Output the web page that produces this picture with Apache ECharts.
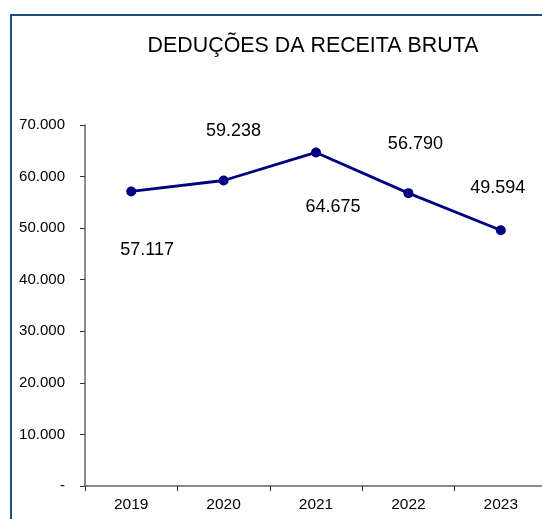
<html>
<head>
    <meta charset="utf-8">
    <script src="https://cdn.jsdelivr.net/npm/echarts@6/dist/echarts.min.js"></script>
    <style>
        body { margin: 0; background: #fff; }
        #frame { position: absolute; left: 10px; top: 14px; width: 540px; height: 510px;
                 border-left: 2px solid #1f4e79; border-top: 2px solid #1f4e79; }
    </style>
</head>
<body>
    <div id="frame"></div>
    <div id="main" style="position:absolute; left:0; top:0; width:542px; height:519px"></div>
<script type="text/javascript">
    var categories = ['2019', '2020', '2021', '2022', '2023'];
    var values = [57117, 59238, 64675, 56790, 49594];
    var yTicks = [0, 10000, 20000, 30000, 40000, 50000, 60000, 70000];

    // where each value label sits relative to its point
    var labelOffsets = [[16, 59], [10, -49], [17, 55], [7, -49], [-3, -42]];

    function fmt(v) {
        if (v === 0) return '-';
        return v.toLocaleString('de-DE');
    }

    var myChart = echarts.init(document.getElementById('main'));
    var option = {
        animation: false,
        title: {
            text: 'DEDUÇÕES DA RECEITA BRUTA',
            left: 308,
            top: 31,
            textAlign: 'center',
            textStyle: { fontFamily: 'Liberation Sans', fontSize: 21.4, fontWeight: 'normal', color: '#000' }
        },
        grid: { left: 85, top: 125, width: 462, height: 361, outerBoundsMode: 'none' },
        xAxis: {
            type: 'category',
            data: categories,
            axisLine: { lineStyle: { color: '#666', width: 1.5 } },
            axisTick: { show: true, length: 5, lineStyle: { color: '#333' } },
            axisLabel: { margin: 11, color: '#000', fontFamily: 'Liberation Sans', fontSize: 15.5 }
        },
        yAxis: {
            type: 'value',
            min: 0,
            max: yTicks[yTicks.length - 1],
            interval: 10000,
            splitLine: { show: false },
            axisLine: { show: true, lineStyle: { color: '#666', width: 1.5 } },
            axisTick: { show: true, length: 5, lineStyle: { color: '#333' } },
            axisLabel: {
                margin: 20,
                color: '#000',
                fontFamily: 'Liberation Sans',
                fontSize: 15,
                formatter: fmt
            }
        },
        series: [{
            type: 'line',
            data: values.map(function (v, i) {
                return {
                    value: v,
                    label: { offset: labelOffsets[i] }
                };
            }),
            symbol: 'circle',
            symbolSize: 10,
            lineStyle: { color: '#000080', width: 2.8 },
            itemStyle: { color: '#000080' },
            label: {
                show: true,
                position: 'inside',
                color: '#000',
                fontFamily: 'Liberation Sans',
                fontSize: 18,
                formatter: function (p) { return fmt(p.value); }
            }
        }]
    };
    myChart.setOption(option);
</script>
</body>
</html>
